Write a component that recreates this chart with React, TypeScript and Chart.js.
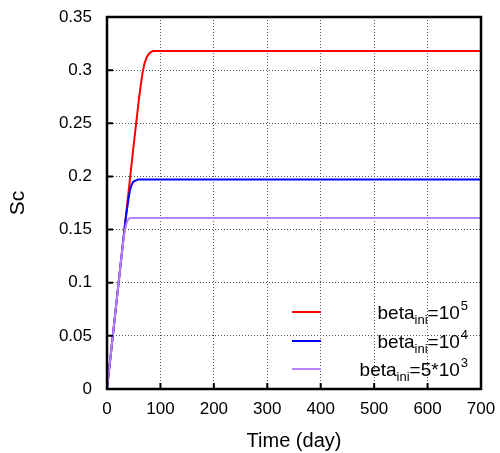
import React, { useEffect, useRef } from "react";
import { Chart, registerables } from "chart.js";

Chart.register(...registerables);

const redX = [0, 10, 20, 30, 40, 50, 60, 66, 70, 74, 78, 82, 86, 90, 700];
const redY = [0, 0.046, 0.092, 0.138, 0.184, 0.23, 0.274, 0.296, 0.306, 0.312, 0.315, 0.317, 0.318, 0.318, 0.318];
const blueX = [0, 10, 20, 30, 36, 40, 43, 46, 49, 53, 58, 700];
const blueY = [0, 0.046, 0.092, 0.138, 0.164, 0.178, 0.187, 0.192, 0.195, 0.196, 0.197, 0.197];
const purpleX = [0, 10, 20, 27, 30, 33, 36, 39, 43, 48, 700];
const purpleY = [0, 0.046, 0.092, 0.124, 0.137, 0.148, 0.155, 0.159, 0.161, 0.161, 0.161];

const xTicks = [0, 100, 200, 300, 400, 500, 600, 700];
const yTicks = [0, 0.05, 0.1, 0.15, 0.2, 0.25, 0.3, 0.35];

const legendItems = [
  { color: "#ff0000", base: "beta", sub: "ini", mid: "=10", sup: "5" },
  { color: "#0000ff", base: "beta", sub: "ini", mid: "=10", sup: "4" },
  { color: "#b583ff", base: "beta", sub: "ini", mid: "=5*10", sup: "3" },
];

const FONT = "'Liberation Sans', Arial, Helvetica, sans-serif";

const toPts = (xs: number[], ys: number[]) => xs.map((x, i) => ({ x, y: ys[i] }));

const framePlugin = {
  id: "frameAndLegend",
  afterDraw(chart: any) {
    const { ctx, chartArea } = chart;
    const xs = chart.scales.x;
    const ys = chart.scales.y;
    const { left, right, top, bottom } = chartArea;
    ctx.save();
    // inward ticks
    ctx.strokeStyle = "#000";
    ctx.lineWidth = 2;
    ctx.beginPath();
    xTicks.forEach((v) => {
      const px = xs.getPixelForValue(v);
      ctx.moveTo(px, bottom);
      ctx.lineTo(px, bottom - 6);
    });
    yTicks.forEach((v) => {
      const py = ys.getPixelForValue(v);
      ctx.moveTo(left, py);
      ctx.lineTo(left + 6, py);
    });
    ctx.stroke();
    // frame
    ctx.lineWidth = 2.5;
    ctx.strokeRect(left, top, right - left, bottom - top);

    // legend
    const rightEdge = right - 13;
    const rowYs = [bottom - 77, bottom - 48, bottom - 20];
    const mainFont = `19px ${FONT}`;
    const smallFont = `13px ${FONT}`;
    legendItems.forEach((it, i) => {
      const y = rowYs[i];
      ctx.strokeStyle = it.color;
      ctx.lineWidth = 2;
      ctx.beginPath();
      ctx.moveTo(left + 185, y);
      ctx.lineTo(left + 214, y);
      ctx.stroke();
      ctx.fillStyle = "#000";
      ctx.textBaseline = "alphabetic";
      ctx.textAlign = "left";
      ctx.font = mainFont;
      const wBase = ctx.measureText(it.base).width;
      const wMid = ctx.measureText(it.mid).width;
      ctx.font = smallFont;
      const wSub = ctx.measureText(it.sub).width;
      const wSup = ctx.measureText(it.sup).width;
      const total = wBase + wSub + wMid + wSup + 1;
      let cx = rightEdge - total;
      const base = y + 7;
      ctx.font = mainFont;
      ctx.fillText(it.base, cx, base);
      cx += wBase;
      ctx.font = smallFont;
      ctx.fillText(it.sub, cx, base + 5);
      cx += wSub;
      ctx.font = mainFont;
      ctx.fillText(it.mid, cx, base);
      cx += wMid + 1;
      ctx.font = smallFont;
      ctx.fillText(it.sup, cx, base - 9);
    });
    ctx.restore();
  },
};

export default function App() {
  const ref = useRef<HTMLCanvasElement | null>(null);
  useEffect(() => {
    document.body.style.margin = "0";
    const canvas = ref.current!;
    const chart = new Chart(canvas, {
      type: "line",
      data: {
        datasets: [
          { data: toPts(redX, redY), borderColor: "#ff0000", borderWidth: 2, pointRadius: 0, tension: 0 },
          { data: toPts(blueX, blueY), borderColor: "#0000ff", borderWidth: 2, pointRadius: 0, tension: 0 },
          { data: toPts(purpleX, purpleY), borderColor: "#b583ff", borderWidth: 2, pointRadius: 0, tension: 0 },
        ].reverse() as any,
      },
      options: {
        animation: false,
        responsive: false,
        maintainAspectRatio: false,
        layout: { padding: { left: 0, right: 19, top: 17, bottom: 0 } },
        plugins: { legend: { display: false }, tooltip: { enabled: false } },
        scales: {
          x: {
            type: "linear",
            min: 0,
            max: 700,
            afterBuildTicks: (s: any) => {
              s.ticks = xTicks.map((v) => ({ value: v }));
            },
            afterFit: (s: any) => {
              s.height = 64;
              s.paddingLeft = 0;
              s.paddingRight = 0;
            },
            ticks: {
              color: "#000",
              font: { family: FONT, size: 17 },
              padding: 10,
              maxRotation: 0,
              callback: (v: any) => String(v),
            },
            grid: { color: "#555", drawTicks: false, tickLength: 0 },
            border: { display: false, dash: [1, 2] },
            title: {
              display: true,
              text: "Time (day)",
              color: "#000",
              font: { family: FONT, size: 20 },
              padding: { top: 0, bottom: 0 },
            },
          },
          y: {
            type: "linear",
            min: 0,
            max: 0.35,
            afterBuildTicks: (s: any) => {
              s.ticks = yTicks.map((v) => ({ value: v }));
            },
            afterFit: (s: any) => {
              s.width = 107;
              s.paddingTop = 0;
              s.paddingBottom = 0;
            },
            ticks: {
              color: "#000",
              font: { family: FONT, size: 17 },
              padding: 15,
              callback: (v: any) => String(Math.round(Number(v) * 100) / 100),
            },
            grid: { color: "#555", drawTicks: false, tickLength: 0 },
            border: { display: false, dash: [1, 2] },
            title: {
              display: true,
              text: "Sc",
              color: "#000",
              font: { family: FONT, size: 21 },
              padding: { top: 6, bottom: 0 },
            },
          },
        },
      },
      plugins: [framePlugin],
    } as any);
    return () => chart.destroy();
  }, []);
  return (
    <div style={{ position: "absolute", left: 0, top: 0, width: 500, height: 453 }}>
      <canvas ref={ref} width={500} height={453} style={{ width: 500, height: 453 }} />
    </div>
  );
}
